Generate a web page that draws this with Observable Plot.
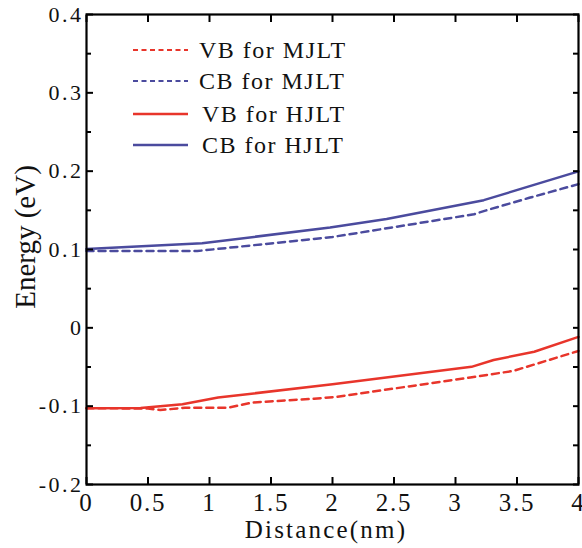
<!DOCTYPE html>
<html>
<head>
<meta charset="utf-8">
<script src="https://cdn.jsdelivr.net/npm/d3@7"></script>
<script src="https://cdn.jsdelivr.net/npm/@observablehq/plot@0.6"></script>
<style>
  body { margin: 0; background: white; }
  #chart { position: relative; width: 582px; height: 548px; }
</style>
</head>
<body>
<div id="chart"></div>
<script>
// Series data (distance in nm, energy in eV)
const vbMJLT = [[0,-0.1026],[0.5,-0.103],[0.6,-0.105],[0.8,-0.102],[1.15,-0.102],[1.35,-0.0954],[1.85,-0.0905],[2.04,-0.088],[3.12,-0.0634],[3.47,-0.055],[4,-0.0295]];
const cbMJLT = [[0,0.098],[0.9,0.098],[2.0,0.116],[2.4,0.126],[3.15,0.145],[3.25,0.150],[3.6,0.166],[4,0.1835]];
const vbHJLT = [[0,-0.1026],[0.44,-0.1023],[0.78,-0.0975],[1.07,-0.089],[2.0,-0.072],[3.13,-0.0498],[3.31,-0.041],[3.64,-0.0306],[4,-0.0116]];
const cbHJLT = [[0,0.1005],[0.94,0.108],[1.98,0.128],[2.44,0.139],[3.23,0.163],[4,0.1997]];

const seriesNames = ["VB for MJLT", "CB for MJLT", "VB for HJLT", "CB for HJLT"];
const xTicks = [0, 0.5, 1, 1.5, 2, 2.5, 3, 3.5, 4];
const yTicks = [-0.2, -0.1, 0, 0.1, 0.2, 0.3, 0.4];
const yMinor = [-0.15, -0.05, 0.05, 0.15, 0.25, 0.35];
const xLabel = "Distance(nm)";
const yLabel = "Energy (eV)";

const FONT = "'Liberation Serif', 'Times New Roman', serif";
const RED = "#e8352b";
const BLUE = "#4b4b9e";
const styles = [
  {stroke: RED, dash: "7,5"},
  {stroke: BLUE, dash: "7,5"},
  {stroke: RED, dash: null},
  {stroke: BLUE, dash: null}
];
const allSeries = [vbMJLT, cbMJLT, vbHJLT, cbHJLT];
const toRows = (arr) => arr.map(([x, y]) => ({x, y}));

const lineMarks = allSeries.map((s, i) =>
  Plot.line(toRows(s), {x: "x", y: "y", stroke: styles[i].stroke, strokeWidth: 2.5,
    strokeDasharray: styles[i].dash || undefined})
);

const plot = Plot.plot({
  width: 582,
  height: 548,
  marginLeft: 86,
  marginRight: 4,
  marginTop: 14,
  marginBottom: 64,
  x: {domain: [0, 4]},
  y: {domain: [-0.2, 0.4]},
  style: {fontFamily: FONT, background: "white", color: "black"},
  marks: [
    ...lineMarks,
    Plot.axisX({anchor: "bottom", ticks: xTicks, tickSize: -7, fill: "none", strokeWidth: 2, label: null}),
    Plot.axisX({anchor: "top", ticks: xTicks, tickSize: -7, fill: "none", strokeWidth: 2, label: null}),
    Plot.axisX({anchor: "bottom", ticks: xTicks, tickSize: 0, tickPadding: 9, fontSize: 25, fontFamily: FONT,
      fontVariant: "normal", fill: "#111", label: null, tickFormat: d => String(d)}),
    Plot.axisY({anchor: "left", ticks: yTicks, tickSize: -7, fill: "none", strokeWidth: 2, label: null}),
    Plot.axisY({anchor: "left", ticks: yMinor, tickSize: -5, fill: "none", strokeWidth: 2, label: null}),
    Plot.axisY({anchor: "right", ticks: yTicks.concat(yMinor), tickSize: -6, fill: "none", strokeWidth: 2, label: null}),
    Plot.axisY({anchor: "left", ticks: yTicks, tickSize: 0, tickPadding: 3, fontSize: 22, fontFamily: FONT,
      fontVariant: "normal", fill: "#111", label: null, tickFormat: d => d === 0 ? "0" : d.toFixed(1)}),
    Plot.frame({stroke: "black", strokeWidth: 2.2})
  ]
});

document.getElementById("chart").appendChild(plot);

const svg = d3.select(plot);
// horizontal widening of tick labels as in the reference
svg.selectAll("g[aria-label='y-axis tick label'] text").attr("letter-spacing", "2.5");
svg.selectAll("g[aria-label='x-axis tick label'] text").attr("letter-spacing", "1.8");

// Axis titles
svg.append("text")
  .attr("x", 326).attr("y", 538)
  .attr("text-anchor", "middle")
  .attr("font-family", FONT).attr("font-size", 25)
  .attr("letter-spacing", "2.2")
  .attr("fill", "#111")
  .text(xLabel);
svg.append("text")
  .attr("transform", "translate(35,237) rotate(-90)")
  .attr("text-anchor", "middle")
  .attr("font-family", FONT).attr("font-size", 29)
  .attr("fill", "#111")
  .text(yLabel);

// Legend drawn inside the plot area (top-left)
const leg = svg.append("g").attr("font-family", FONT).attr("font-size", 24).attr("text-anchor", "start");
const rowY = [50, 81, 114, 145];
seriesNames.forEach((name, i) => {
  leg.append("line")
    .attr("x1", 133).attr("x2", 188)
    .attr("y1", rowY[i]).attr("y2", rowY[i])
    .attr("stroke", styles[i].stroke)
    .attr("stroke-width", styles[i].dash ? 1.8 : 2.6)
    .attr("stroke-dasharray", styles[i].dash ? "5,3.5" : null);
  leg.append("text")
    .attr("x", i < 2 ? 199 : 202).attr("y", rowY[i] + 8)
    .attr("letter-spacing", "1.5")
    .attr("fill", "#111")
    .text(name);
});
</script>
</body>
</html>
